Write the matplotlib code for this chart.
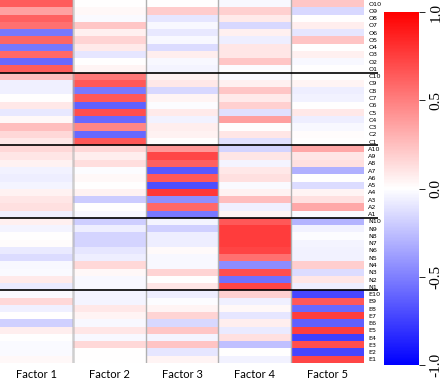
import numpy as np
import matplotlib
matplotlib.use("Agg")
import matplotlib.pyplot as plt
from matplotlib.colors import Normalize

rows = ([f"O{i}" for i in range(10, 0, -1)] + [f"C{i}" for i in range(10, 0, -1)] +
        [f"A{i}" for i in range(10, 0, -1)] + [f"N{i}" for i in range(10, 0, -1)] +
        [f"E{i}" for i in range(10, 0, -1)])
factors = ["Factor 1", "Factor 2", "Factor 3", "Factor 4", "Factor 5"]

f1 = [0.64, 0.37, 0.62, 0.56, -0.53, 0.60, -0.53, 0.59, -0.59, 0.64,
      0.25, -0.06, -0.06, 0.00, 0.09, -0.09, 0.03, 0.25, 0.15, 0.09,
      0.15, 0.10, 0.05, -0.05, -0.07, -0.04, 0.05, 0.10, 0.12, -0.06,
      0.06, -0.04, 0.00, 0.01, -0.08, -0.14, -0.03, -0.02, 0.08, -0.08,
      -0.02, 0.15, -0.06, 0.00, -0.18, 0.07, 0.00, -0.02, -0.02, 0.03]
f2 = [0.00, 0.03, -0.02, 0.22, 0.06, 0.17, 0.08, -0.10, 0.00, 0.04,
      0.53, 0.65, -0.53, 0.65, -0.62, 0.69, -0.59, 0.47, -0.59, 0.65,
      0.15, 0.07, 0.13, -0.01, 0.03, 0.00, 0.05, -0.20, 0.00, -0.03,
      -0.19, -0.07, -0.17, -0.17, -0.10, -0.07, 0.15, 0.03, -0.03, -0.03,
      -0.04, -0.04, 0.09, 0.04, -0.03, 0.10, -0.03, 0.15, 0.00, 0.00]
f3 = [0.00, 0.20, -0.10, -0.03, -0.09, -0.03, -0.14, 0.07, -0.03, -0.04,
      0.05, 0.09, -0.15, 0.04, -0.01, 0.08, -0.05, 0.07, 0.05, 0.00,
      0.40, 0.72, 0.62, -0.65, 0.65, -0.69, 0.78, -0.44, 0.59, -0.53,
      -0.04, -0.18, -0.07, -0.07, 0.02, -0.03, -0.03, 0.17, 0.00, 0.10,
      -0.07, -0.01, 0.04, 0.17, -0.15, 0.22, -0.04, 0.23, -0.10, 0.04]
f4 = [-0.03, 0.18, 0.08, -0.15, 0.06, -0.07, 0.10, 0.10, 0.22, -0.01,
      -0.03, 0.06, 0.22, 0.08, 0.18, -0.12, 0.37, 0.00, 0.10, -0.12,
      -0.17, 0.10, -0.04, 0.09, 0.12, -0.02, 0.05, 0.25, -0.06, 0.04,
      0.65, 0.76, 0.76, 0.76, 0.73, 0.56, -0.45, 0.69, -0.56, 0.72,
      0.18, -0.06, 0.03, -0.10, 0.07, -0.08, 0.12, -0.25, 0.00, -0.05]
f5 = [0.22, -0.15, 0.00, 0.07, -0.10, 0.23, 0.00, 0.06, -0.03, 0.00,
      0.00, 0.04, -0.07, -0.05, 0.00, 0.09, -0.07, -0.03, 0.01, 0.00,
      0.34, 0.10, 0.12, -0.31, 0.00, -0.14, 0.04, 0.12, 0.34, -0.02,
      -0.29, -0.05, -0.01, -0.04, -0.05, -0.05, 0.19, -0.14, 0.10, -0.07,
      -0.72, 0.65, -0.59, 0.75, -0.62, 0.75, -0.75, 0.69, -0.72, 0.72]
cbar_ticks = [-1.0, -0.5, 0.0, 0.5, 1.0]

W, H = 447, 381
fig = plt.figure(figsize=(W / 100, H / 100), dpi=100)
ax = fig.add_axes([0 / W, 1 - 363 / H, 364 / W, 363 / H])

data = np.column_stack([f1, f2, f3, f4, f5])
nrow, ncol = data.shape
norm = Normalize(-1, 1)
mesh = ax.pcolormesh(np.arange(ncol + 1), np.arange(nrow + 1), data,
                     cmap="bwr", norm=norm, shading="flat")
ax.set_xlim(0, ncol)
ax.set_ylim(nrow, 0)
for s in ax.spines.values():
    s.set_visible(False)

# column separators
for x in range(1, ncol):
    ax.axvline(x, color="#b0b0b0", lw=1.0 if x > 1 else 1.8,
               alpha=1.0 if x > 1 else 0.6)
# group separators
for y in [10, 20, 30, 40]:
    ax.plot([0, 5.19], [y, y], color="black", lw=1.2, clip_on=False,
            solid_capstyle="butt")

ax.set_xticks(np.arange(ncol) + 0.5)
ax.set_xticklabels(factors, fontsize=8, family="Lato")
ax.tick_params(axis="x", length=0, pad=4)
ax.yaxis.tick_right()
ax.set_yticks(np.arange(nrow) + 0.5)
ax.set_yticklabels(rows, fontsize=4.6)
ax.tick_params(axis="y", length=0, pad=3)

cax = fig.add_axes([384 / W, 1 - 365 / H, 35 / W, 353 / H])
cb = fig.colorbar(mesh, cax=cax, ticks=cbar_ticks)
cb.outline.set_visible(False)
cax.tick_params(length=4.5, width=0.6, pad=3)
cax.set_yticklabels([f"{t:.1f}" for t in cbar_ticks], rotation=90,
                    va="center", family="Liberation Serif", fontsize=11)

fig.savefig("out.png", dpi=100)
